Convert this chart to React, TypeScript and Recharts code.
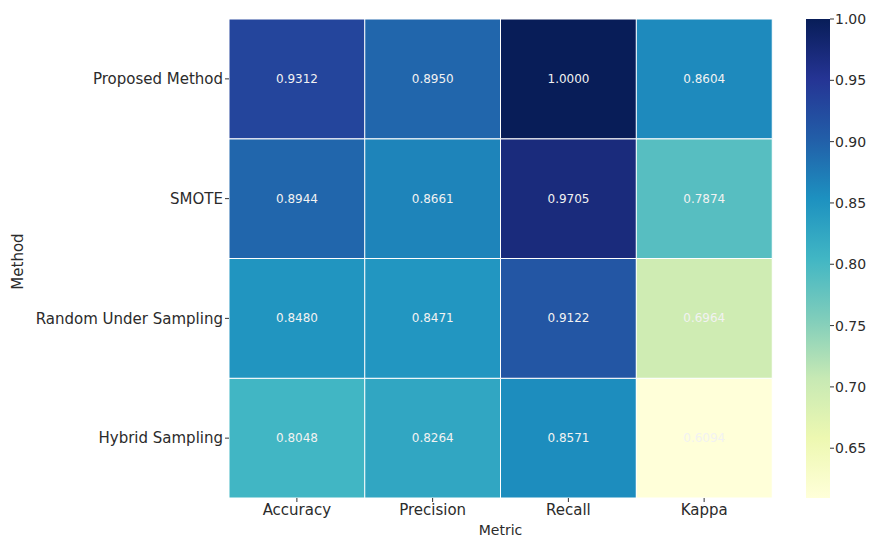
import { Bar, BarChart, Cell, LabelList, XAxis, YAxis } from 'recharts';

const metrics = ['Accuracy', 'Precision', 'Recall', 'Kappa'];
// top to bottom as shown
const methods = ['Proposed Method', 'SMOTE', 'Random Under Sampling', 'Hybrid Sampling'];

const proposedScores = [0.9312, 0.895, 1.0, 0.8604];
const smoteScores = [0.8944, 0.8661, 0.9705, 0.7874];
const rusScores = [0.848, 0.8471, 0.9122, 0.6964];
const hybridScores = [0.8048, 0.8264, 0.8571, 0.6094];

const scores: Record<string, number[]> = {
  'Proposed Method': proposedScores,
  SMOTE: smoteScores,
  'Random Under Sampling': rusScores,
  'Hybrid Sampling': hybridScores,
};

const colorbarTicks = [0.65, 0.7, 0.75, 0.8, 0.85, 0.9, 0.95, 1.0];

const VMIN = 0.6094;
const VMAX = 1.0;
const FONT = '"DejaVu Sans", sans-serif';

// matplotlib YlGnBu
const YLGNBU = ['#ffffd9', '#edf8b1', '#c7e9b4', '#7fcdbb', '#41b6c4', '#1d91c0', '#225ea8', '#253494', '#081d58'];

const hexToRgb = (h: string) => [1, 3, 5].map((i) => parseInt(h.slice(i, i + 2), 16));

function cmap(t: number) {
  const c = Math.max(0, Math.min(1, t)) * (YLGNBU.length - 1);
  const i = Math.min(Math.floor(c), YLGNBU.length - 2);
  const f = c - i;
  const a = hexToRgb(YLGNBU[i]);
  const b = hexToRgb(YLGNBU[i + 1]);
  const rgb = a.map((v, k) => Math.round(v + (b[k] - v) * f));
  return `rgb(${rgb.join(',')})`;
}

const valueColor = (v: number) => cmap((v - VMIN) / (VMAX - VMIN));

// stack from bottom row upward, each cell takes one unit
const stackOrder = [...methods].reverse();
const tableData = metrics.map((metric) => {
  const row: Record<string, string | number> = { metric };
  methods.forEach((m) => (row[m] = 1));
  return row;
});

const colorbarData = [{ name: 'cbar', range: [VMIN, VMAX] }];

function Heatmap() {
  return (
    <BarChart
      width={790}
      height={538}
      data={tableData}
      margin={{ top: 19, right: 18, bottom: 0, left: 0 }}
      barCategoryGap={0}
      barGap={0}
    >
      <XAxis
        dataKey="metric"
        height={40}
        axisLine={false}
        tickSize={4}
        tickLine={{ stroke: '#333' }}
        tick={{ fill: '#2b2b2b', fontSize: 15, fontFamily: FONT }}
        label={{ value: 'Metric', position: 'insideBottom', offset: 3, fill: '#2b2b2b', fontSize: 14, fontFamily: FONT }}
      />
      <YAxis
        type="number"
        domain={[0, 4]}
        ticks={[0.5, 1.5, 2.5, 3.5]}
        width={229}
        axisLine={false}
        tickSize={4}
        tickLine={{ stroke: '#333' }}
        tick={{ fill: '#2b2b2b', fontSize: 15, fontFamily: FONT }}
        tickFormatter={(v: number) => methods[3 - Math.floor(v)]}
        label={{
          content: (props: any) => {
            const vb = props.viewBox;
            const x = vb.x + 18;
            const y = vb.y + vb.height / 2 + 3;
            return (
              <text x={x} y={y} transform={`rotate(-90 ${x} ${y})`} textAnchor="middle" dominantBaseline="central" fill="#2b2b2b" fontSize={15} fontFamily={FONT}>
                Method
              </text>
            );
          },
        }}
      />
      {stackOrder.map((method) => (
        <Bar key={method} dataKey={method} stackId="cells" stroke="#fff" strokeWidth={1} isAnimationActive={false}>
          {metrics.map((metric, i) => (
            <Cell key={metric} fill={valueColor(scores[method][i])} />
          ))}
          <LabelList
            dataKey={method}
            content={(p: any) => (
              <text
                x={p.x + p.width / 2}
                y={p.y + p.height / 2}
                textAnchor="middle"
                dominantBaseline="central"
                fill="#f2f2f2"
                fontSize={12}
                fontFamily={FONT}
              >
                {scores[method][p.index].toFixed(4)}
              </text>
            )}
          />
        </Bar>
      ))}
    </BarChart>
  );
}

function Colorbar() {
  return (
    <BarChart
      width={79}
      height={538}
      data={colorbarData}
      margin={{ top: 19, right: 0, bottom: 40, left: 16 }}
      barCategoryGap={0}
      style={{ overflow: 'visible' }}
    >
      <defs>
        <linearGradient id="ylgnbu" x1="0" y1="0" x2="0" y2="1">
          {[...YLGNBU].reverse().map((c, i) => (
            <stop key={c} offset={i / (YLGNBU.length - 1)} stopColor={c} />
          ))}
        </linearGradient>
      </defs>
      <XAxis dataKey="name" hide />
      <YAxis
        orientation="right"
        type="number"
        domain={[VMIN, VMAX]}
        allowDataOverflow
        ticks={colorbarTicks}
        width={39}
        axisLine={false}
        tickSize={4}
        tickMargin={1}
        tickLine={{ stroke: '#333' }}
        tick={{ fill: '#2b2b2b', fontSize: 14, fontFamily: FONT }}
        tickFormatter={(v: number) => v.toFixed(2)}
      />
      <Bar dataKey="range" fill="url(#ylgnbu)" isAnimationActive={false} />
    </BarChart>
  );
}

export default function App() {
  return (
    <div style={{ position: 'absolute', left: 0, top: 0, width: 869, height: 538, background: '#fff' }}>
      <div style={{ position: 'absolute', left: 0, top: 0 }}>
        <Heatmap />
      </div>
      <div style={{ position: 'absolute', left: 790, top: 0 }}>
        <Colorbar />
      </div>
    </div>
  );
}
